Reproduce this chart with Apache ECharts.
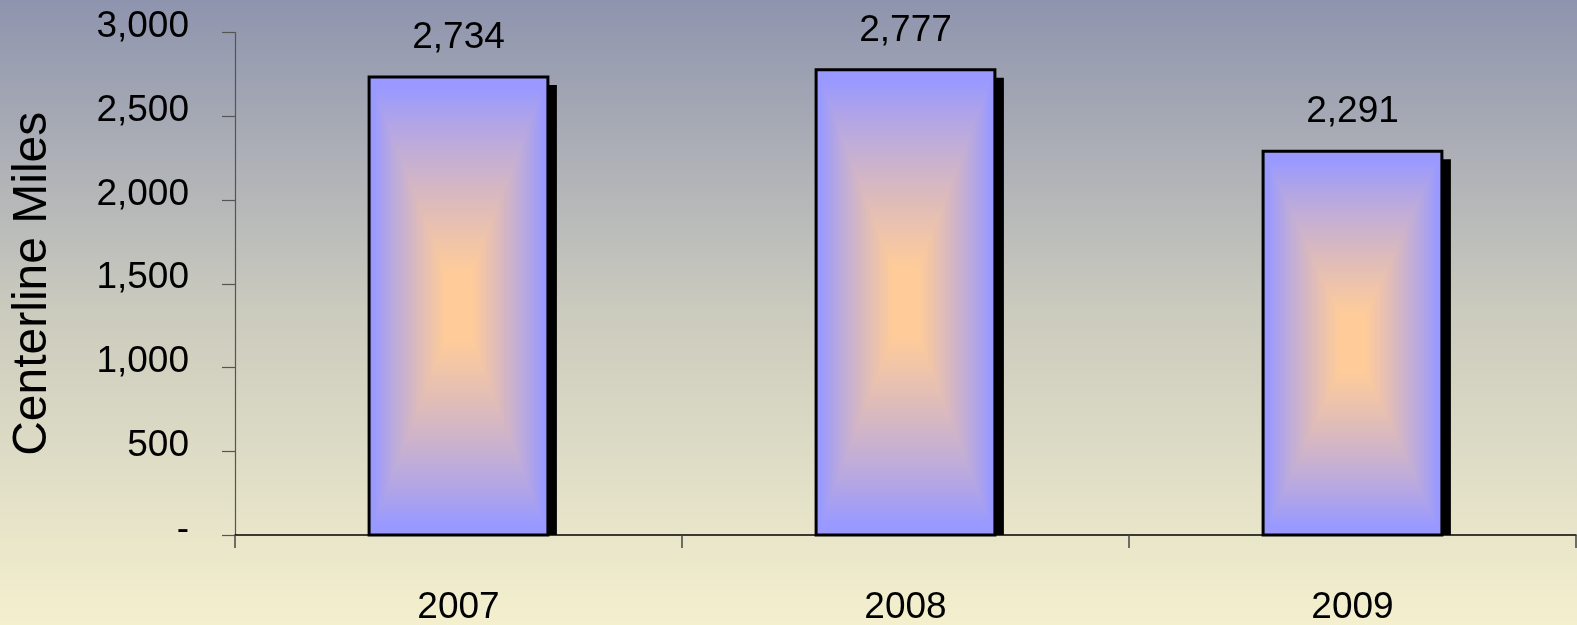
<!DOCTYPE html>
<html>
<head>
<meta charset="utf-8">
<script src="https://cdn.jsdelivr.net/npm/echarts@6/dist/echarts.min.js"></script>
<style>
html,body{margin:0;padding:0;width:1577px;height:625px;overflow:hidden;}
#chart{width:1577px;height:625px;}
</style>
</head>
<body>
<div id="chart"></div>
<script>
var years = ['2007', '2008', '2009'];
var miles = [2734, 2777, 2291];
var yTicks = [0, 500, 1000, 1500, 2000, 2500, 3000];
var yTitle = 'Centerline Miles';

var SANS = "'Liberation Sans', Arial, sans-serif";

function fmt(v) { return v === 0 ? '-' : v.toLocaleString('en-US'); }

var BLUE = [153, 153, 255], ORANGE = [255, 204, 153];
function mix(f) {
  return 'rgb(' + [0, 1, 2].map(function (k) { return Math.round(BLUE[k] + (ORANGE[k] - BLUE[k]) * f); }).join(',') + ')';
}

var chart = echarts.init(document.getElementById('chart'), null, { renderer: 'canvas' });
chart.setOption({
  animation: false,
  backgroundColor: {
    type: 'linear', x: 0, y: 0, x2: 0, y2: 1,
    colorStops: [{ offset: 0, color: '#8E94AE' }, { offset: 0.5, color: '#CBCBBE' }, { offset: 1, color: '#F4F0CE' }]
  },
  grid: { left: 235, right: 1, top: 32.5, bottom: 90, containLabel: false, outerBoundsMode: 'none' },
  xAxis: {
    type: 'category',
    data: years,
    boundaryGap: true,
    axisLine: { show: true, lineStyle: { color: '#000', width: 1.5 } },
    axisTick: { show: true, length: 13, alignWithLabel: false, lineStyle: { color: '#444', width: 1.5 } },
    axisLabel: { margin: 54, fontSize: 37, fontFamily: SANS, color: '#000' },
    splitLine: { show: false }
  },
  yAxis: {
    type: 'value',
    min: yTicks[0], max: yTicks[yTicks.length - 1], interval: 500,
    name: yTitle,
    nameLocation: 'middle',
    nameGap: 178,
    nameRotate: 90,
    nameTextStyle: { fontSize: 48, fontFamily: SANS, color: '#000' },
    axisLine: { show: true, lineStyle: { color: '#555', width: 1.2 } },
    axisTick: { show: true, length: 13, lineStyle: { color: '#555', width: 1.2 } },
    axisLabel: { margin: 46, fontSize: 37, fontFamily: SANS, color: '#000', formatter: fmt, verticalAlign: 'bottom', lineHeight: 11 },
    splitLine: { show: false }
  },
  series: [{
    type: 'custom',
    data: miles.map(function (v, i) { return [i, v]; }),
    encode: { x: 0, y: 1 },
    renderItem: function (params, api) {
      var idx = api.value(0), v = api.value(1);
      var top = api.coord([idx, v]);
      var base = api.coord([idx, 0]);
      var w = api.size([1, 0])[0] * 0.4;
      var left = top[0] - w / 2, h = base[1] - top[1];
      var cx = top[0], cy = top[1] + h / 2;
      var kids = [];
      kids.push({ type: 'rect', shape: { x: left + 9, y: top[1] + 8, width: w, height: h - 8 }, style: { fill: '#000' } });
      var N = 70;
      for (var i = 0; i < N; i++) {
        var t = i / N;
        var f = Math.pow(Math.max(0, Math.min(1, (t - 0.05) / 0.8)), 0.85);
        var rw = w * (1 - t), rh = h * (1 - t);
        kids.push({ type: 'rect', shape: { x: cx - rw / 2, y: cy - rh / 2, width: rw, height: rh }, style: { fill: mix(f) } });
      }
      kids.push({ type: 'rect', shape: { x: left, y: top[1], width: w, height: h }, style: { fill: 'none', stroke: '#000', lineWidth: 3 } });
      kids.push({ type: 'text', x: cx, y: top[1] - 39, style: { text: fmt(v), align: 'center', verticalAlign: 'middle', fontSize: 37, fontFamily: SANS, fill: '#000' } });
      return { type: 'group', children: kids };
    }
  }]
});
</script>
</body>
</html>
